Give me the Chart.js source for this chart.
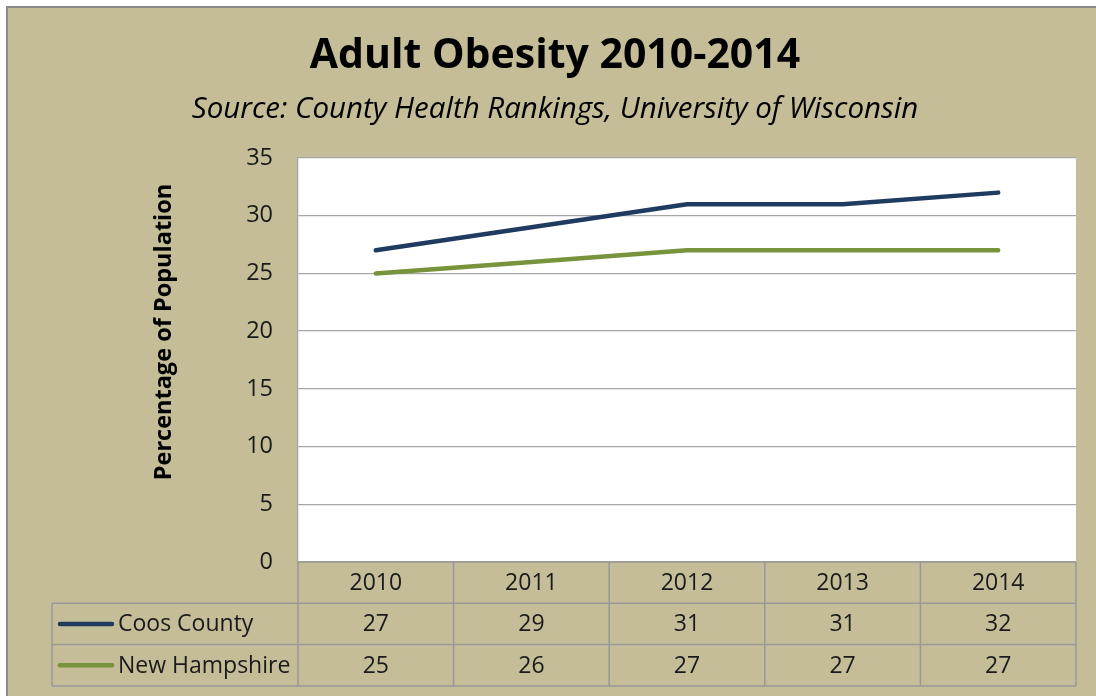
<!DOCTYPE html>
<html><head><meta charset="utf-8">
<script src="https://cdn.jsdelivr.net/npm/chart.js@4"></script>
<style>html,body{margin:0;padding:0;background:#fff}#wrap{width:1096px;height:696px}</style>
</head><body><div id="wrap"><canvas id="c" width="1096" height="696"></canvas></div>
<script>
const categories = ['2010', '2011', '2012', '2013', '2014'];
const coosCounty = [27, 29, 31, 31, 32];
const newHampshire = [25, 26, 27, 27, 27];
const seriesNames = ['Coos County', 'New Hampshire'];
const seriesColors = ['#1F3B5F', '#77933C'];
const yMin = 0, yMax = 35, yStep = 5;
const titleText = 'Adult Obesity 2010-2014';
const subtitleText = 'Source: County Health Rankings, University of Wisconsin';
const yTitleText = 'Percentage of Population';

const W = 1096, H = 696;
const TAN = '#C4BD97';
const GRID = '#A6A6A6';
const FONT = '"Open Sans", Lato, sans-serif';

const tablePlugin = {
  id: 'tablePlugin',
  beforeDraw(chart) {
    const ctx = chart.ctx, a = chart.chartArea;
    ctx.save();
    ctx.fillStyle = '#fff'; ctx.fillRect(0, 0, W, H);
    ctx.fillStyle = TAN; ctx.fillRect(7, 7, W, H);
    ctx.strokeStyle = '#8a8a8a'; ctx.lineWidth = 2;
    ctx.beginPath(); ctx.moveTo(7, H); ctx.lineTo(7, 7); ctx.lineTo(W, 7); ctx.stroke();
    ctx.fillStyle = '#fff';
    ctx.fillRect(a.left, a.top, a.right - a.left, a.bottom - a.top);
    ctx.restore();
  },
  afterDraw(chart) {
    const ctx = chart.ctx, a = chart.chartArea, xs = chart.scales.x;
    const n = categories.length;
    const colW = (a.right - a.left) / n;
    const rowH = 41.3;
    const top = a.bottom;
    const legLeft = 52;
    ctx.save();
    ctx.strokeStyle = '#999999'; ctx.lineWidth = 1.5;
    ctx.beginPath();
    ctx.moveTo(a.left, top); ctx.lineTo(a.right, top);
    for (let r = 1; r <= 3; r++) { ctx.moveTo(legLeft, top + rowH * r); ctx.lineTo(a.right, top + rowH * r); }
    ctx.moveTo(legLeft, top + rowH); ctx.lineTo(legLeft, top + rowH * 3);
    for (let i = 0; i <= n; i++) {
      const x = xs.getPixelForValue(Math.min(i, n - 1)) + (i === n ? colW / 2 : -colW / 2);
      ctx.moveTo(x, top); ctx.lineTo(x, top + rowH * 3);
    }
    ctx.stroke();
    ctx.fillStyle = '#1a1a1a';
    ctx.font = '23px ' + FONT;
    ctx.textAlign = 'center'; ctx.textBaseline = 'middle';
    const rows = [categories, coosCounty, newHampshire];
    rows.forEach((row, r) => {
      row.forEach((v, i) => {
        ctx.fillText(String(v), xs.getPixelForValue(i), top + rowH * r + rowH / 2 + 1);
      });
    });
    ctx.textAlign = 'left';
    seriesNames.forEach((name, k) => {
      const cy = top + rowH * (k + 1) + rowH / 2;
      ctx.strokeStyle = seriesColors[k]; ctx.lineWidth = 4.5; ctx.lineCap = 'round';
      ctx.beginPath(); ctx.moveTo(60, cy); ctx.lineTo(112, cy); ctx.stroke();
      ctx.fillStyle = '#1a1a1a';
      ctx.fillText(name, 118, cy + 1);
    });
    ctx.translate(164, 332);
    ctx.rotate(-Math.PI / 2);
    ctx.textAlign = 'center'; ctx.textBaseline = 'middle';
    ctx.font = 'bold 23.5px ' + FONT;
    ctx.fillStyle = '#000';
    ctx.fillText(yTitleText, 0, 0);
    ctx.restore();
  }
};

new Chart(document.getElementById('c'), {
  type: 'line',
  data: {
    labels: categories,
    datasets: [
      { label: seriesNames[0], data: coosCounty, borderColor: seriesColors[0], borderWidth: 4.5, pointRadius: 0, tension: 0, borderCapStyle: 'round', borderJoinStyle: 'round' },
      { label: seriesNames[1], data: newHampshire, borderColor: seriesColors[1], borderWidth: 4.5, pointRadius: 0, tension: 0, borderCapStyle: 'round', borderJoinStyle: 'round' }
    ]
  },
  options: {
    responsive: false,
    animation: false,
    devicePixelRatio: 1,
    layout: { padding: { left: 34, right: 20, top: 0, bottom: 134 } },
    plugins: {
      legend: { display: false },
      tooltip: { enabled: false },
      title: { display: true, text: titleText, color: '#000', font: { family: FONT, size: 41, weight: 'bold', lineHeight: 1.2 }, padding: { top: 32, bottom: 0 } },
      subtitle: { display: true, text: subtitleText, color: '#000', font: { family: FONT, size: 29.5, style: 'italic', lineHeight: 1.2 }, padding: { top: 11, bottom: 30.4 } }
    },
    scales: {
      x: { type: 'category', display: false, offset: true },
      y: {
        min: yMin, max: yMax,
        afterFit(scale) { scale.width = 264; },
        ticks: { stepSize: yStep, padding: 25, color: '#1a1a1a', font: { family: FONT, size: 23.5 } },
        grid: { color: GRID, lineWidth: 1.3, drawTicks: false },
        border: { display: true, color: GRID, width: 1.3 }
      }
    }
  },
  plugins: [tablePlugin]
});
</script>
</body></html>
